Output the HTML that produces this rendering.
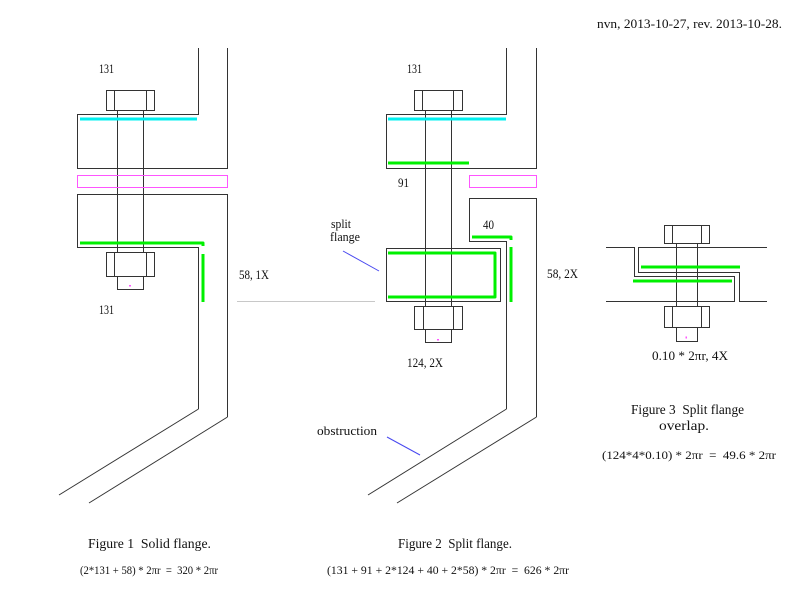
<!DOCTYPE html>
<html>
<head>
<meta charset="utf-8">
<style>
  html, body { margin: 0; padding: 0; background: #fff; }
  svg { display: block; }
  text { font-family: "Liberation Serif", "DejaVu Serif", serif; fill: #111; white-space: pre; }
</style>
</head>
<body>
<svg width="800" height="598" viewBox="0 0 800 598" xmlns="http://www.w3.org/2000/svg">
  <rect x="0" y="0" width="800" height="598" fill="#fff"/>

  <!-- header -->
  <text x="597" y="28" font-size="12.5" textLength="185" lengthAdjust="spacingAndGlyphs">nvn, 2013-10-27, rev. 2013-10-28.</text>

  <!-- ================= FIGURE 1 ================= -->
  <g fill="none" stroke="#333" stroke-width="1">
    <polyline points="198.5,48 198.5,114.5 77.5,114.5 77.5,168.5 227.5,168.5 227.5,48"/>
    <rect x="106.5" y="90.5" width="48" height="20"/>
    <line x1="114.5" y1="90.5" x2="114.5" y2="110.5"/>
    <line x1="146.5" y1="90.5" x2="146.5" y2="110.5"/>
    <line x1="117.5" y1="110.5" x2="117.5" y2="252.5"/>
    <line x1="143.5" y1="110.5" x2="143.5" y2="252.5"/>
    <polyline points="198.5,409 198.5,247.5 77.5,247.5 77.5,194.5 227.5,194.5 227.5,417"/>
    <line x1="198.5" y1="409" x2="59" y2="495"/>
    <line x1="227.5" y1="417" x2="89" y2="503"/>
    <rect x="106.5" y="252.5" width="48" height="24"/>
    <line x1="114.5" y1="252.5" x2="114.5" y2="276.5"/>
    <line x1="146.5" y1="252.5" x2="146.5" y2="276.5"/>
    <rect x="117.5" y="276.5" width="26" height="13"/>
  </g>
  <line x1="80" y1="119" x2="197" y2="119" stroke="#00f0f0" stroke-width="3"/>
  <rect x="77.5" y="175.5" width="150" height="12" fill="none" stroke="#ff55ff" stroke-width="1"/>
  <polyline points="80,243 203,243 203,246" fill="none" stroke="#00f000" stroke-width="3" stroke-linejoin="round"/>
  <line x1="203" y1="254" x2="203" y2="302" stroke="#00f000" stroke-width="3"/>
  <rect x="129" y="285" width="2" height="1.5" fill="#ff55ff"/>
  <line x1="237" y1="301.5" x2="375" y2="301.5" stroke="#c8c8c8" stroke-width="1"/>

  <text x="99" y="73" font-size="13" textLength="15" lengthAdjust="spacingAndGlyphs">131</text>
  <text x="99" y="314" font-size="13" textLength="15" lengthAdjust="spacingAndGlyphs">131</text>
  <text x="239" y="279" font-size="13" textLength="30" lengthAdjust="spacingAndGlyphs">58, 1X</text>

  <text x="88" y="548" font-size="13.5" textLength="123" lengthAdjust="spacingAndGlyphs">Figure 1  Solid flange.</text>
  <text x="80" y="574" font-size="11.5" textLength="138" lengthAdjust="spacingAndGlyphs">(2*131 + 58) * 2πr  =  320 * 2πr</text>

  <!-- ================= FIGURE 2 ================= -->
  <g fill="none" stroke="#333" stroke-width="1">
    <polyline points="506.5,48 506.5,114.5 386.5,114.5 386.5,168.5 536.5,168.5 536.5,48"/>
    <rect x="414.5" y="90.5" width="48" height="20"/>
    <line x1="422.5" y1="90.5" x2="422.5" y2="110.5"/>
    <line x1="453.5" y1="90.5" x2="453.5" y2="110.5"/>
    <line x1="425.5" y1="110.5" x2="425.5" y2="306.5"/>
    <line x1="451.5" y1="110.5" x2="451.5" y2="306.5"/>
    <polyline points="506.5,409 506.5,241.5 469.5,241.5 469.5,198.5 536.5,198.5 536.5,417"/>
    <line x1="506.5" y1="409" x2="368" y2="495"/>
    <line x1="536.5" y1="417" x2="397" y2="503"/>
    <rect x="386.5" y="248.5" width="114" height="53"/>
    <rect x="414.5" y="306.5" width="48" height="23"/>
    <line x1="423.5" y1="306.5" x2="423.5" y2="329.5"/>
    <line x1="453.5" y1="306.5" x2="453.5" y2="329.5"/>
    <rect x="425.5" y="329.5" width="26" height="13"/>
  </g>
  <line x1="388" y1="119" x2="506" y2="119" stroke="#00f0f0" stroke-width="3"/>
  <line x1="388" y1="163" x2="469" y2="163" stroke="#00f000" stroke-width="3"/>
  <rect x="469.5" y="175.5" width="67" height="12" fill="none" stroke="#ff55ff" stroke-width="1"/>
  <polyline points="472,237 511,237 511,240" fill="none" stroke="#00f000" stroke-width="3" stroke-linejoin="round"/>
  <line x1="511" y1="247" x2="511" y2="302" stroke="#00f000" stroke-width="3"/>
  <polyline points="388,253 495,253 495,297 388,297" fill="none" stroke="#00f000" stroke-width="3" stroke-linejoin="round"/>
  <rect x="437" y="339" width="2" height="1.5" fill="#ff55ff"/>
  <line x1="343" y1="251" x2="379" y2="271" stroke="#4848f0" stroke-width="1"/>
  <line x1="387" y1="437" x2="420" y2="455" stroke="#4848f0" stroke-width="1"/>

  <text x="407" y="73" font-size="13" textLength="15" lengthAdjust="spacingAndGlyphs">131</text>
  <text x="398" y="187" font-size="13" textLength="11" lengthAdjust="spacingAndGlyphs">91</text>
  <text x="483" y="229" font-size="13" textLength="11" lengthAdjust="spacingAndGlyphs">40</text>
  <text x="331" y="228" font-size="13" textLength="20" lengthAdjust="spacingAndGlyphs">split</text>
  <text x="330" y="241" font-size="13" textLength="30" lengthAdjust="spacingAndGlyphs">flange</text>
  <text x="547" y="278" font-size="13" textLength="31" lengthAdjust="spacingAndGlyphs">58, 2X</text>
  <text x="407" y="367" font-size="13" textLength="36" lengthAdjust="spacingAndGlyphs">124, 2X</text>
  <text x="317" y="435" font-size="13" textLength="60" lengthAdjust="spacingAndGlyphs">obstruction</text>

  <text x="398" y="548" font-size="13.5" textLength="114" lengthAdjust="spacingAndGlyphs">Figure 2  Split flange.</text>
  <text x="327" y="574" font-size="11.5" textLength="242" lengthAdjust="spacingAndGlyphs">(131 + 91 + 2*124 + 40 + 2*58) * 2πr  =  626 * 2πr</text>

  <!-- ================= FIGURE 3 ================= -->
  <g fill="none" stroke="#333" stroke-width="1">
    <rect x="664.5" y="225.5" width="45" height="18"/>
    <line x1="672.5" y1="225.5" x2="672.5" y2="243.5"/>
    <line x1="701.5" y1="225.5" x2="701.5" y2="243.5"/>
    <line x1="676.5" y1="243.5" x2="676.5" y2="306.5"/>
    <line x1="697.5" y1="243.5" x2="697.5" y2="306.5"/>
    <polyline points="606,247.5 634.5,247.5 634.5,276.5 734.5,276.5 734.5,301.5 606,301.5"/>
    <polyline points="767,247.5 638.5,247.5 638.5,272.5 739.5,272.5 739.5,301.5 767,301.5"/>
    <rect x="664.5" y="306.5" width="45" height="21"/>
    <line x1="672.5" y1="306.5" x2="672.5" y2="327.5"/>
    <line x1="701.5" y1="306.5" x2="701.5" y2="327.5"/>
    <rect x="676.5" y="327.5" width="21" height="14"/>
  </g>
  <line x1="641" y1="267" x2="740" y2="267" stroke="#00f000" stroke-width="3"/>
  <line x1="633" y1="281" x2="732" y2="281" stroke="#00f000" stroke-width="3"/>
  <rect x="685.5" y="336.5" width="1.5" height="2" fill="#ff55ff"/>

  <text x="652" y="360" font-size="13" textLength="76" lengthAdjust="spacingAndGlyphs">0.10 * 2πr, 4X</text>
  <text x="631" y="414" font-size="13.5" textLength="113" lengthAdjust="spacingAndGlyphs">Figure 3  Split flange</text>
  <text x="659" y="430" font-size="13.5" textLength="50" lengthAdjust="spacingAndGlyphs">overlap.</text>
  <text x="602" y="459" font-size="11.5" textLength="174" lengthAdjust="spacingAndGlyphs">(124*4*0.10) * 2πr  =  49.6 * 2πr</text>
</svg>
</body>
</html>
